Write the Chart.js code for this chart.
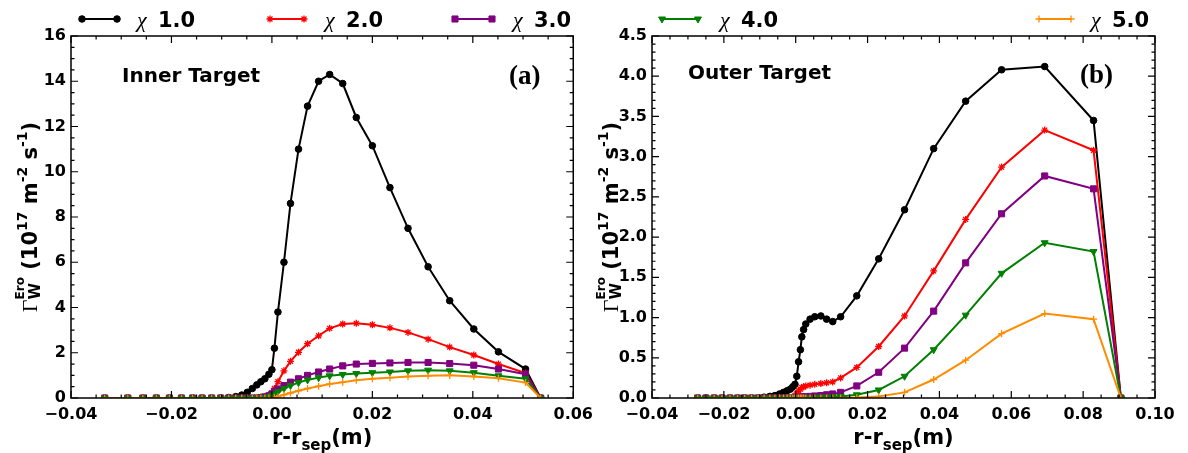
<!DOCTYPE html>
<html><head><meta charset="utf-8">
<script src="https://cdn.jsdelivr.net/npm/chart.js@4.4.1/dist/chart.umd.min.js"></script>
<style>
html,body{margin:0;padding:0;background:#fff;width:1188px;height:453px;overflow:hidden}
canvas{position:absolute;top:0}
#cL{left:0}
#cR{left:580px}
</style></head><body>
<canvas id="cL" width="600" height="453"></canvas>
<canvas id="cR" width="608" height="453"></canvas>
<script>
// ---------- DATA ----------
const chiLabels = ['1.0', '2.0', '3.0', '4.0', '5.0'];

const xInner = [-0.0333, -0.0287, -0.0257, -0.0230, -0.0204, -0.0180, -0.0158, -0.0139, -0.0120, -0.0102,
  -0.0086, -0.0072, -0.0060, -0.0049, -0.0039, -0.0030, -0.0022, -0.0014, -0.0006, 0.0000,
  0.0005, 0.0012, 0.0024, 0.0037, 0.0053, 0.0071, 0.0093, 0.0115, 0.0141, 0.0168,
  0.0200, 0.0235, 0.0271, 0.0311, 0.0354, 0.0402, 0.0451, 0.0505, 0.0535];
const innerChi1 = [0,0,0,0,0,0,0,0,0,0,
  0.02, 0.06, 0.13, 0.25, 0.42, 0.58, 0.72, 0.85, 1.05, 1.25,
  2.2, 3.8, 6.0, 8.6, 11.0, 12.9, 14.0, 14.3, 13.9, 12.4,
  11.15, 9.3, 7.5, 5.8, 4.3, 3.05, 2.04, 1.28, 0];
const innerChi2 = [0,0,0,0,0,0,0,0,0,0,
  0,0,0,0, 0.01, 0.02, 0.04, 0.07, 0.12, 0.22,
  0.42, 0.72, 1.2, 1.62, 2.02, 2.4, 2.75, 3.08, 3.27, 3.3,
  3.24, 3.1, 2.9, 2.6, 2.25, 1.9, 1.5, 1.1, 0];
const innerChi3 = [0,0,0,0,0,0,0,0,0,0,
  0,0,0,0,0,0, 0.02, 0.05, 0.1, 0.18,
  0.28, 0.4, 0.55, 0.7, 0.85, 1.0, 1.15, 1.28, 1.42, 1.5,
  1.53, 1.55, 1.57, 1.57, 1.52, 1.45, 1.28, 1.05, 0];
const innerChi4 = [0,0,0,0,0,0,0,0,0,0,
  0,0,0,0,0,0,0, 0.02, 0.05, 0.1,
  0.18, 0.28, 0.42, 0.55, 0.68, 0.8, 0.9, 0.98, 1.04, 1.08,
  1.12, 1.15, 1.2, 1.23, 1.2, 1.12, 0.98, 0.85, 0];
const innerChi5 = [0,0,0,0,0,0,0,0,0,0,
  0,0,0,0,0,0,0,0,0,0,
  0.02, 0.06, 0.14, 0.22, 0.32, 0.42, 0.52, 0.62, 0.7, 0.78,
  0.85, 0.9, 0.95, 0.98, 1.0, 0.95, 0.87, 0.68, 0];

const xOuter = [-0.0273, -0.0250, -0.0227, -0.0205, -0.0183, -0.0162, -0.0142, -0.0123, -0.0105, -0.0088,
  -0.0072, -0.0058, -0.0045, -0.0034, -0.0024, -0.0015, -0.0008, -0.0002, 0.0003, 0.0008,
  0.0013, 0.0017, 0.0022, 0.0028, 0.0040, 0.0053, 0.0070, 0.0086, 0.0103, 0.0125,
  0.0170, 0.0231, 0.0303, 0.0384, 0.0473, 0.0573, 0.0693, 0.0829, 0.0905];
const outerChi1 = [0,0,0,0,0,0,0,0,0, 0.01,
  0.02, 0.03, 0.05, 0.07, 0.09, 0.11, 0.14, 0.17, 0.27, 0.45,
  0.6, 0.76, 0.85, 0.92, 0.98, 1.01, 1.02, 0.98, 0.95, 1.01,
  1.27, 1.73, 2.34, 3.1, 3.69, 4.08, 4.12, 3.45, 0];
const outerChi2 = [0,0,0,0,0,0,0,0,0,0,
  0,0,0,0,0,0, 0.01, 0.03, 0.06, 0.09,
  0.11, 0.13, 0.14, 0.15, 0.16, 0.17, 0.18, 0.19, 0.2, 0.25,
  0.38, 0.64, 1.02, 1.58, 2.22, 2.87, 3.33, 3.08, 0];
const outerChi3 = [0,0,0,0,0,0,0,0,0,0,
  0,0,0,0,0,0,0,0, 0.005, 0.008,
  0.01, 0.012, 0.014, 0.016, 0.02, 0.025, 0.03, 0.04, 0.05, 0.07,
  0.15, 0.32, 0.62, 1.08, 1.68, 2.29, 2.76, 2.6, 0];
const outerChi4 = [0,0,0,0,0,0,0,0,0,0,
  0,0,0,0,0,0,0,0,0,0,
  0,0,0,0, 0.005, 0.008, 0.01, 0.012, 0.015, 0.02,
  0.04, 0.1, 0.27, 0.6, 1.03, 1.55, 1.93, 1.82, 0];
const outerChi5 = [0,0,0,0,0,0,0,0,0,0,
  0,0,0,0,0,0,0,0,0,0,
  0,0,0,0,0,0,0,0,0,0,
  0.005, 0.02, 0.07, 0.23, 0.47, 0.8, 1.05, 0.98, 0];

const xTicksInner = [-0.04, -0.02, 0.00, 0.02, 0.04, 0.06];
const yTicksInner = [0, 2, 4, 6, 8, 10, 12, 14, 16];
const xTicksOuter = [-0.04, -0.02, 0.00, 0.02, 0.04, 0.06, 0.08, 0.10];
const yTicksOuter = [0, 0.5, 1.0, 1.5, 2.0, 2.5, 3.0, 3.5, 4.0, 4.5];

// ---------- STYLE ----------
const styles = [
  {color:'#000000', pointStyle:'circle',   radius:3.3, rotation:0,   pbw:1},
  {color:'#ff0000', pointStyle:'star',     radius:3.5, rotation:0,   pbw:1.3},
  {color:'#800080', pointStyle:'rect',     radius:4.3, rotation:0,   pbw:1},
  {color:'#008000', pointStyle:'triangle', radius:4.0, rotation:180, pbw:1},
  {color:'#ff8c00', pointStyle:'cross',    radius:3.5, rotation:0,   pbw:1.3}
];
Chart.defaults.font.family = '"DejaVu Sans"';
const TICKFONT = {family:'"DejaVu Sans"', size:16, weight:'bold'};

function fmtX(v){ return (v < -1e-9 ? '\u2212' : '') + Math.abs(v).toFixed(2); }

function drawRuns(ctx, runs, x, y, rot){
  ctx.save();
  const ws = runs.map(r => {
    const parts = r.stack || [r];
    let w = 0;
    parts.forEach(p => { ctx.font = p.f; w = Math.max(w, ctx.measureText(p.t).width); });
    return w;
  });
  const total = ws.reduce((a,b)=>a+b,0);
  ctx.translate(x, y); ctx.rotate(rot);
  ctx.textAlign = 'left'; ctx.textBaseline = 'alphabetic'; ctx.fillStyle = '#000';
  let cx = -total/2;
  runs.forEach((r,i) => {
    (r.stack || [r]).forEach(p => { ctx.font = p.f; ctx.fillText(p.t, cx, p.dy || 0); });
    cx += ws[i];
  });
  ctx.restore();
}

const B21 = 'bold 21px "DejaVu Sans"', B14 = 'bold 14px "DejaVu Sans"';
const yLabelRuns = [
  {t:'\u0393', f:'22px "Liberation Serif"'},
  {stack:[{t:'W', f:'bold 15px "DejaVu Sans"', dy:3}, {t:'Ero', f:'bold 12px "DejaVu Sans"', dy:-13}]},
  {t:' (10', f:B21}, {t:'17', f:B14, dy:-10},
  {t:' m', f:B21}, {t:'-2', f:B14, dy:-10},
  {t:' s', f:B21}, {t:'-1', f:B14, dy:-10},
  {t:')', f:B21}
];
const xLabelRuns = [
  {t:'r-r', f:B21}, {t:'sep', f:'bold 15px "DejaVu Sans"', dy:6}, {t:'(m)', f:B21}
];

function makeChart(id, cfg){
  const el = document.getElementById(id);
  const datasets = cfg.series.map((ys,i) => {
    const st = styles[i];
    return {
      label: '\u03c7 ' + chiLabels[i],
      data: cfg.xs.map((x,j) => ({x:x, y:ys[j]})),
      borderColor: st.color, backgroundColor: st.color,
      pointBackgroundColor: st.color, pointBorderColor: st.color,
      borderWidth: 2, pointStyle: st.pointStyle, pointRadius: st.radius,
      pointRotation: st.rotation, pointBorderWidth: st.pbw,
      pointHoverRadius: st.radius, tension: 0, fill: false, order: 5 - i
    };
  });
  const deco = {
    id: 'deco',
    afterDraw(chart){
      const ctx = chart.ctx;
      const {left, right, top, bottom} = chart.chartArea;
      const xs = chart.scales.x, ys = chart.scales.y;
      ctx.save();
      ctx.strokeStyle = '#000'; ctx.lineWidth = 1.5;
      ctx.strokeRect(left, top, right-left, bottom-top);
      ctx.lineWidth = 1.2;
      ctx.beginPath();
      const nx = Math.round((xs.max - xs.min)/cfg.xMinor);
      for (let k=0;k<=nx;k++){
        const v = xs.min + k*cfg.xMinor;
        const isMajor = cfg.xTicks.some(t => Math.abs(t - v) < 1e-9);
        const L = isMajor ? 7 : 3.5;
        const px = xs.getPixelForValue(v);
        ctx.moveTo(px, bottom); ctx.lineTo(px, bottom - L);
        ctx.moveTo(px, top); ctx.lineTo(px, top + L);
      }
      const ny = Math.round((ys.max - ys.min)/cfg.yMinor);
      for (let k=0;k<=ny;k++){
        const v = ys.min + k*cfg.yMinor;
        const isMajor = cfg.yTicks.some(t => Math.abs(t - v) < 1e-9);
        const L = isMajor ? 7 : 3.5;
        const py = ys.getPixelForValue(v);
        ctx.moveTo(left, py); ctx.lineTo(left + L, py);
        ctx.moveTo(right, py); ctx.lineTo(right - L, py);
      }
      ctx.stroke();
      ctx.fillStyle = '#000'; ctx.textAlign = 'left'; ctx.textBaseline = 'alphabetic';
      cfg.texts.forEach(tx => { ctx.font = tx.f; ctx.fillText(tx.t, tx.x, tx.y); });
      drawRuns(ctx, xLabelRuns, (left+right)/2, 444, 0);
      drawRuns(ctx, yLabelRuns, cfg.yLabelX, (top+bottom)/2, -Math.PI/2);
      cfg.legend.forEach(lg => {
        const st = styles[lg.i];
        ctx.strokeStyle = st.color; ctx.fillStyle = st.color; ctx.lineWidth = 2;
        ctx.beginPath(); ctx.moveTo(lg.x1, 19); ctx.lineTo(lg.x2, 19); ctx.stroke();
        ctx.lineWidth = st.pbw;
        [lg.x1, lg.x2].forEach(px => Chart.helpers.drawPoint(ctx,
          {pointStyle: st.pointStyle, radius: st.radius, rotation: st.rotation, borderWidth: st.pbw}, px, 19));
        ctx.fillStyle = '#000';
        ctx.font = 'italic 22px "Liberation Serif"';
        ctx.fillText('\u03c7', lg.tx, 27);
        ctx.font = 'bold 21px "DejaVu Sans"';
        ctx.fillText(chiLabels[lg.i], lg.tx + 21, 27);
      });
      ctx.restore();
    }
  };
  return new Chart(el, {
    type: 'line',
    data: {datasets},
    options: {
      responsive: false, animation: false, devicePixelRatio: 1,
      layout: {padding: cfg.padding},
      plugins: {legend: {display:false}, tooltip: {enabled:false}},
      scales: {
        x: {
          type: 'linear', min: cfg.xTicks[0], max: cfg.xTicks[cfg.xTicks.length-1],
          afterBuildTicks: s => { s.ticks = cfg.xTicks.map(v => ({value:v})); },
          afterFit: s => { s.height = 55; },
          ticks: {callback: v => fmtX(v), font: TICKFONT, color:'#000', maxRotation:0, autoSkip:false, padding:7},
          grid: {display:false, drawTicks:false}, border: {display:false}
        },
        y: {
          type: 'linear', min: cfg.yTicks[0], max: cfg.yTicks[cfg.yTicks.length-1],
          afterBuildTicks: s => { s.ticks = cfg.yTicks.map(v => ({value:v})); },
          afterFit: s => { s.width = cfg.yWidth; },
          ticks: {callback: cfg.yFmt, font: TICKFONT, color:'#000', autoSkip:false, padding:5},
          grid: {display:false, drawTicks:false}, border: {display:false}
        }
      }
    },
    plugins: [deco]
  });
}

makeChart('cL', {
  xs: xInner, series: [innerChi1, innerChi2, innerChi3, innerChi4, innerChi5],
  xTicks: xTicksInner, yTicks: yTicksInner, xMinor: 0.005, yMinor: 0.5,
  yFmt: v => String(Math.round(v)), yWidth: 71,
  padding: {left:0, right:24, top:36, bottom:0},
  yLabelX: 37,
  texts: [
    {t:'Inner Target', f:'bold 20px "DejaVu Sans"', x:122, y:82},
    {t:'(a)', f:'bold 27px "Liberation Serif"', x:509, y:84}
  ],
  legend: [
    {i:0, x1:82, x2:117, tx:137},
    {i:1, x1:270, x2:304, tx:325},
    {i:2, x1:455, x2:492, tx:513}
  ]
});

makeChart('cR', {
  xs: xOuter, series: [outerChi1, outerChi2, outerChi3, outerChi4, outerChi5],
  xTicks: xTicksOuter, yTicks: yTicksOuter, xMinor: 0.005, yMinor: 0.1,
  yFmt: v => v.toFixed(1), yWidth: 72,
  padding: {left:0, right:33, top:36, bottom:0},
  yLabelX: 38,
  texts: [
    {t:'Outer Target', f:'bold 20px "DejaVu Sans"', x:688-580, y:79},
    {t:'(b)', f:'bold 27px "Liberation Serif"', x:1080-580, y:83}
  ],
  legend: [
    {i:3, x1:662-580, x2:698-580, tx:720-580},
    {i:4, x1:1039-580, x2:1071-580, tx:1091-580}
  ]
});
</script>
</body></html>
